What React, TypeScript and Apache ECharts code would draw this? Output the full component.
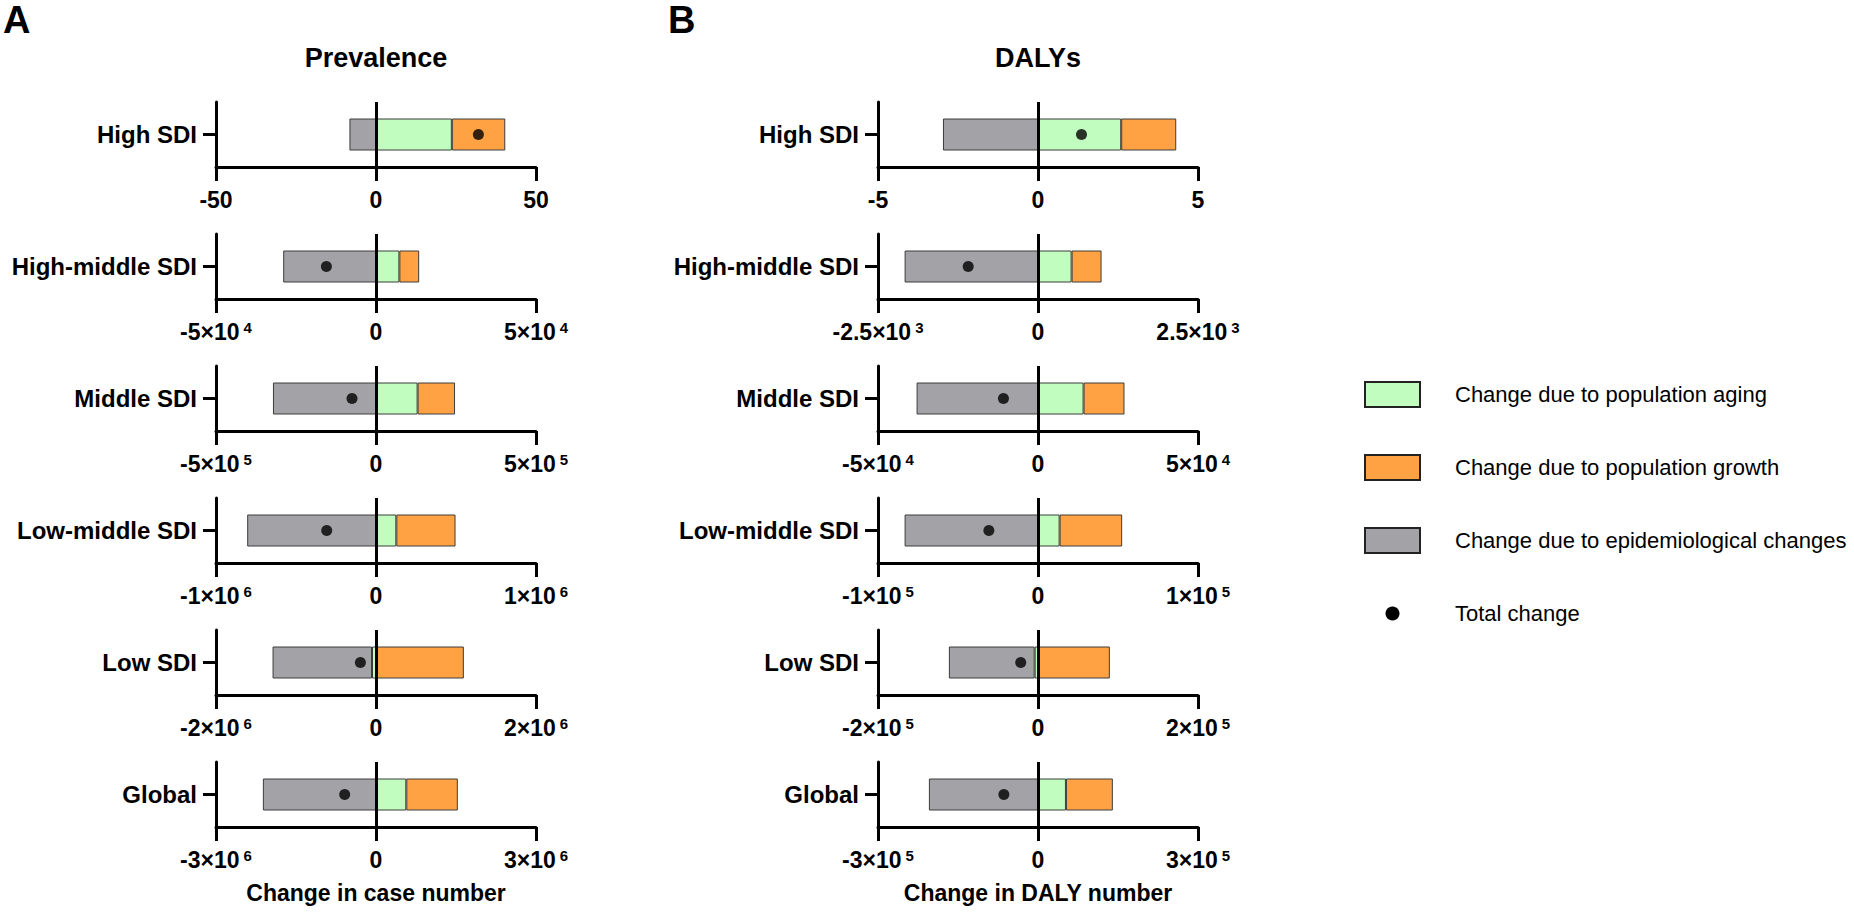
import React, { useEffect, useRef } from 'react';
import * as echarts from 'echarts';

// ---------- data ----------
const categories = ['High SDI', 'High-middle SDI', 'Middle SDI', 'Low-middle SDI', 'Low SDI', 'Global'];

// Prevalence (case number)
const prevAging = [23.7, 7300, 130000, 127000, -50000, 568000];
const prevGrowth = [16.7, 6200, 117000, 370000, 1098000, 966000];
const prevEpi = [-8.3, -29000, -322000, -805000, -1243000, -2121000];
const prevTotal = [32.0, -15500, -75000, -308000, -195000, -587000];
const prevAxisMax = [50, 5e4, 5e5, 1e6, 2e6, 3e6];
const prevTickMantissa = ['50', '5', '5', '1', '2', '3'];
const prevTickExp = ['', '4', '5', '6', '6', '6'];

// DALYs
const dalyAging = [2.6, 525, 14240, 13510, -4160, 52390];
const dalyGrowth = [1.72, 468, 12790, 39090, 89800, 87940];
const dalyEpi = [-2.97, -2084, -37940, -83370, -107240, -204570];
const dalyTotal = [1.36, -1091, -10800, -30700, -21600, -64000];
const dalyAxisMax = [5, 2500, 5e4, 1e5, 2e5, 3e5];
const dalyTickMantissa = ['5', '2.5', '5', '1', '2', '3'];
const dalyTickExp = ['', '3', '4', '5', '5', '5'];

const panelTitles = ['Prevalence', 'DALYs'];
const panelLetters = ['A', 'B'];
const xAxisTitles = ['Change in case number', 'Change in DALY number'];
const legendLabels = [
  'Change due to population aging',
  'Change due to population growth',
  'Change due to epidemiological changes',
  'Total change',
];

// ---------- styling ----------
const FONT = '"Liberation Sans", Arial, Helvetica, sans-serif';
const COL_AGING = '#C2FDC0';
const COL_GROWTH = '#FFA243';
const COL_EPI = '#A3A2A7';
const BORDER = '#3c3c3c';

const COL_LEFT = [216, 878];
const PANEL_W = 320;
const TOP0 = 102;
const ROW_STEP = 132;
const PANEL_H = 65;

function tickLabel(v: number, max: number, mant: string, exp: string) {
  if (Math.abs(v) < max * 1e-6) return '{b|0}';
  const sign = v < 0 ? '-' : '';
  if (!exp) return `{b|${sign}${mant}}`;
  return `{b|${sign}${mant}×10}{s|${exp}}`;
}

function buildOption() {
  const grid: any[] = [];
  const xAxis: any[] = [];
  const yAxis: any[] = [];
  const series: any[] = [];

  const cols = [
    { aging: prevAging, growth: prevGrowth, epi: prevEpi, total: prevTotal, max: prevAxisMax, mant: prevTickMantissa, exp: prevTickExp },
    { aging: dalyAging, growth: dalyGrowth, epi: dalyEpi, total: dalyTotal, max: dalyAxisMax, mant: dalyTickMantissa, exp: dalyTickExp },
  ];

  cols.forEach((col, c) => {
    categories.forEach((cat, r) => {
      const idx = c * 6 + r;
      const max = col.max[r];
      grid.push({ left: COL_LEFT[c], top: TOP0 + ROW_STEP * r, width: PANEL_W, height: PANEL_H });
      xAxis.push({
        gridIndex: idx,
        type: 'value',
        min: -max,
        max: max,
        interval: max,
        splitLine: { show: false },
        axisLine: { show: true, onZero: false, lineStyle: { color: '#000', width: 3 } },
        axisTick: { show: true, length: 14, lineStyle: { color: '#000', width: 3 } },
        axisLabel: {
          show: true,
          margin: 21,
          showMinLabel: true,
          showMaxLabel: true,
          formatter: (v: number) => tickLabel(v, max, col.mant[r], col.exp[r]),
          rich: {
            b: { fontFamily: FONT, fontWeight: 'bold', fontSize: 23, color: '#000' },
            s: { fontFamily: FONT, fontWeight: 'bold', fontSize: 15, color: '#000', verticalAlign: 'top', padding: [0, 0, 0, 4] },
          },
        },
      });
      yAxis.push({
        gridIndex: idx,
        type: 'category',
        data: [cat],
        axisLine: { show: true, onZero: false, lineStyle: { color: '#000', width: 3 } },
        axisTick: { show: true, alignWithLabel: true, length: 13, lineStyle: { color: '#000', width: 3 } },
        axisLabel: { margin: 19, fontFamily: FONT, fontWeight: 'bold', fontSize: 24, color: '#000' },
        splitLine: { show: false },
      });
      const stack = 'stack' + idx;
      const barCommon = {
        type: 'bar',
        xAxisIndex: idx,
        yAxisIndex: idx,
        stack,
        barWidth: 32,
      };
      series.push({
        ...barCommon,
        name: legendLabels[0],
        data: [col.aging[r]],
        itemStyle: { color: COL_AGING, borderColor: BORDER, borderWidth: 1 },
      });
      series.push({
        ...barCommon,
        name: legendLabels[1],
        data: [col.growth[r]],
        itemStyle: { color: COL_GROWTH, borderColor: BORDER, borderWidth: 1 },
      });
      series.push({
        ...barCommon,
        name: legendLabels[2],
        data: [col.epi[r]],
        itemStyle: { color: COL_EPI, borderColor: BORDER, borderWidth: 1 },
        markLine: {
          silent: true,
          symbol: ['none', 'none'],
          label: { show: false },
          lineStyle: { color: '#000', width: 3, type: 'solid' },
          data: [{ xAxis: 0 }],
        },
      });
      series.push({
        type: 'scatter',
        name: legendLabels[3],
        xAxisIndex: idx,
        yAxisIndex: idx,
        z: 10,
        symbol: 'circle',
        symbolSize: 11,
        itemStyle: { color: '#000' },
        data: [[col.total[r], cat]],
      });
    });
  });

  const graphic: any[] = [];
  // panel letters and titles
  [0, 1].forEach((c) => {
    const zeroX = COL_LEFT[c] + PANEL_W / 2;
    graphic.push({
      type: 'text',
      left: c === 0 ? 3 : 668,
      top: 1,
      style: { text: panelLetters[c], fontFamily: FONT, fontWeight: 'bold', fontSize: 38, fill: '#000' },
    });
    graphic.push({
      type: 'text',
      x: zeroX,
      y: 58,
      style: { text: panelTitles[c], fontFamily: FONT, fontWeight: 'bold', fontSize: 27, fill: '#000', textAlign: 'center', textVerticalAlign: 'middle' },
    });
    graphic.push({
      type: 'text',
      x: zeroX,
      y: 893,
      style: { text: xAxisTitles[c], fontFamily: FONT, fontWeight: 'bold', fontSize: 23, fill: '#000', textAlign: 'center', textVerticalAlign: 'middle' },
    });
  });

  // legend
  const legendFills = [COL_AGING, COL_GROWTH, COL_EPI];
  const LEG_X = 1365;
  const LEG_Y = 382;
  const LEG_STEP = 73;
  legendFills.forEach((fill, i) => {
    graphic.push({
      type: 'rect',
      shape: { x: LEG_X, y: LEG_Y + LEG_STEP * i, width: 55, height: 25 },
      style: { fill, stroke: '#222', lineWidth: 2 },
    });
  });
  graphic.push({
    type: 'circle',
    shape: { cx: LEG_X + 27.5, cy: LEG_Y + 12.5 + LEG_STEP * 3, r: 7 },
    style: { fill: '#000' },
  });
  legendLabels.forEach((label, i) => {
    graphic.push({
      type: 'text',
      x: 1455,
      y: LEG_Y + 12.5 + LEG_STEP * i,
      style: { text: label, fontFamily: FONT, fontSize: 22, fill: '#000', textAlign: 'left', textVerticalAlign: 'middle' },
    });
  });

  return {
    animation: false,
    backgroundColor: '#fff',
    grid,
    xAxis,
    yAxis,
    series,
    graphic,
  };
}

export default function App() {
  const ref = useRef<HTMLDivElement>(null);
  useEffect(() => {
    if (!ref.current) return;
    const chart = echarts.init(ref.current, undefined, { renderer: 'svg' });
    chart.setOption(buildOption() as any);
    return () => chart.dispose();
  }, []);
  return <div ref={ref} style={{ position: 'fixed', left: 0, top: 0, width: 1854, height: 916, background: '#fff' }} />;
}
